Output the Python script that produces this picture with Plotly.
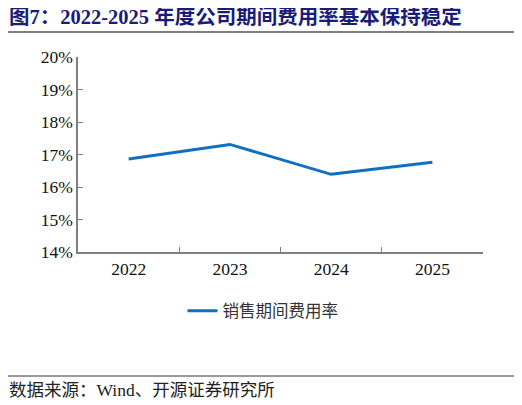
import plotly.graph_objects as go

years = ["2022", "2023", "2024", "2025"]
expense_rate = [0.1686, 0.1731, 0.1639, 0.1676]
series_name = "销售期间费用率"
title_text = "图7：2022-2025 年度公司期间费用率基本保持稳定"
source_text = "数据来源：Wind、开源证券研究所"

OFF = 8  # default page body margin
W, H = 522 - OFF, 405 - OFF
L, R, T, B = 78 - OFF, 39, 57 - OFF, 153
pw, ph = W - L - R, H - T - B

def px_x(x):
    return (x - OFF - L) / pw

def px_y(y):
    return (H - B - (y - OFF)) / ph

serif = "Liberation Serif, Times New Roman, serif"
cjk = "Liberation Serif, Noto Sans CJK SC, serif"

fig = go.Figure()
fig.add_trace(go.Scatter(
    x=years, y=expense_rate, mode="lines", name=series_name,
    line=dict(color="#0F6FC0", width=3),
))

fig.update_layout(
    width=W, height=H,
    margin=dict(l=L, r=R, t=T, b=B),
    paper_bgcolor="white", plot_bgcolor="white",
    showlegend=True,
    legend=dict(
        orientation="h", x=px_x(263), xanchor="center", y=px_y(311), yanchor="middle",
        font=dict(family=cjk, size=16.5, color="#333333"),
        bgcolor="rgba(0,0,0,0)",
    ),
    xaxis=dict(
        type="category", range=[-0.5, 3.5],
        showline=True, linecolor="#7f7f7f", linewidth=1.5,
        ticks="inside", tickson="boundaries", ticklen=5, tickcolor="#7f7f7f",
        showgrid=False, zeroline=False,
        tickfont=dict(family=serif, size=17.5, color="#111111"),
    ),
    yaxis=dict(
        range=[0.14, 0.20], dtick=0.01, tickformat=".0%",
        showline=True, linecolor="#7f7f7f", linewidth=1.5,
        ticks="inside", ticklen=5, tickcolor="#7f7f7f",
        showgrid=False, zeroline=False,
        tickfont=dict(family=serif, size=17.5, color="#111111"),
    ),
    annotations=[
        dict(text="<b>" + title_text + "</b>", xref="paper", yref="paper",
             x=px_x(7), y=px_y(16), xanchor="left", yanchor="middle",
             showarrow=False, font=dict(family=cjk, size=20.5, color="#1B1B78")),
        dict(text=source_text, xref="paper", yref="paper",
             x=px_x(7), y=px_y(390), xanchor="left", yanchor="middle",
             showarrow=False, font=dict(family=cjk, size=17.5, color="#222222")),
    ],
    shapes=[
        dict(type="line", xref="paper", yref="paper",
             x0=px_x(5), x1=px_x(516), y0=px_y(32), y1=px_y(32),
             line=dict(color="#555555", width=1.5)),
        dict(type="line", xref="paper", yref="paper",
             x0=px_x(5), x1=px_x(516), y0=px_y(376), y1=px_y(376),
             line=dict(color="#777777", width=1.5)),
    ],
)

fig.write_html("out.html")
